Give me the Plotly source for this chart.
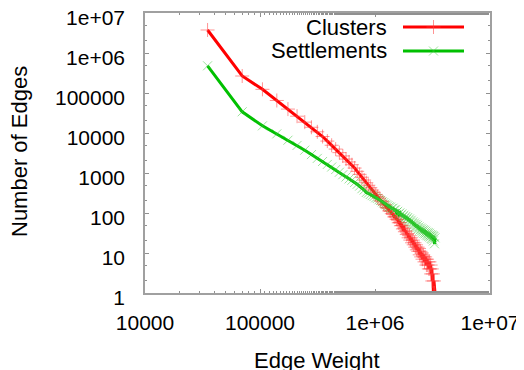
import plotly.graph_objects as go

# Edge weight bins (in thousands)
edge_weight_k = [35, 70, 105, 140, 175, 210, 245, 280, 315, 350,
                 385, 420, 455, 490, 525, 560, 595, 630, 665, 700,
                 735, 770, 805, 840, 875, 910, 945, 980, 1015, 1050,
                 1085, 1120, 1155, 1190, 1225, 1260, 1295, 1330, 1365, 1400,
                 1435, 1470, 1505, 1540, 1575, 1610, 1645, 1680, 1715, 1750,
                 1785, 1820, 1855, 1890, 1925, 1960, 1995, 2030, 2065, 2100,
                 2135, 2170, 2205, 2240, 2275, 2310, 2345, 2380, 2415, 2450,
                 2485, 2520, 2555, 2590, 2625, 2660, 2695, 2730, 2765, 2800,
                 2835, 2870, 2905, 2940, 2975, 3010, 3045, 3080, 3115, 3150,
                 3185, 3220, 3255, 3290, 3325]

clusters = [3760000, 266000, 123600, 65000, 39600, 26300, 18700, 13900, 10700, 8170,
            6280, 4940, 3960, 3230, 2670, 2230, 1890, 1610, 1330, 1100,
            925, 783, 667, 572, 494, 429, 375, 329, 290, 257,
            236, 203, 192, 166, 158, 137, 132, 113, 111, 96,
            94, 80, 81, 70, 68, 57, 58, 48, 49, 40,
            42, 34, 36, 29, 31, 24, 27, 21, 24, 18,
            21, 16, 18, 14, 16, 12, 14, 11, 13, 9,
            11, 8, 10, 7, 9, 8, 6, 8, 7, 5,
            7, 5, 6, 4, 6, 4, 5, 3, 4, 2,
            3, 1, 2, 1, 1]

settlements = [479000, 33900, 15100, 9500, 6600, 4890, 3720, 2880, 2320, 1940,
               1640, 1410, 1220, 1045, 907, 795, 711, 660, 580, 522,
               470, 405, 375, 326, 312, 290, 272, 258, 240, 232,
               214, 206, 190, 181, 168, 160, 152, 143, 140, 130,
               132, 119, 120, 103, 110, 94, 101, 87, 95, 80,
               88, 74, 82, 70, 77, 64, 71, 59, 66, 54,
               60, 50, 56, 46, 52, 43, 49, 40, 45, 37,
               42, 35, 40, 33, 38, 31, 37, 30, 35, 28,
               33, 27, 32, 26, 31, 25, 29, 23, 28, 22,
               27, 20, 26, 17, 24]

x_ticks = [1e4, 1e5, 1e6, 1e7]
x_tick_labels = ["10000", "100000", "1e+06", "1e+07"]
y_ticks = [1, 10, 100, 1000, 1e4, 1e5, 1e6, 1e7]
y_tick_labels = ["1", "10", "100", "1000", "10000", "100000", "1e+06", "1e+07"]

edge_weight = [w * 1000 for w in edge_weight_k]

FONT = "Liberation Sans, Arial, Helvetica, sans-serif"
RED = "#ff0000"
GREEN = "#00c000"

fig = go.Figure()
fig.add_trace(go.Scatter(
    x=edge_weight, y=clusters, name="Clusters", mode="lines+markers",
    legendgroup="clusters",
    line=dict(color=RED, width=3),
    marker=dict(symbol="cross-thin", size=10,
                line=dict(color="rgba(255,60,60,0.55)", width=1)),
))
fig.add_trace(go.Scatter(
    x=edge_weight[:len(settlements)], y=settlements, name="Settlements", mode="lines+markers",
    legendgroup="settlements",
    line=dict(color=GREEN, width=3),
    marker=dict(symbol="x-thin", size=9,
                line=dict(color="rgba(60,200,60,0.5)", width=1)),
))

# page body has an 8px margin; figure is sized/offset so the plot lands where the reference has it
OFF = 8
W, H = 516, 362
L, R, T, B = 137, 34, 5, 77
pw, ph = W - L - R, H - T - B

def fx(sx):
    return (sx - OFF - L) / pw

def fy(sy):
    return (H - B - (sy - OFF)) / ph

axis_common = dict(
    type="log", showgrid=False, zeroline=False,
    showline=True, linecolor="#a0a0a0", linewidth=1.5, mirror="allticks",
    ticks="inside", ticklen=4, tickcolor="#909090", tickwidth=1,
    ticklabeloverflow="allow",
    tickfont=dict(family=FONT, size=21, color="#000000"),
    minor=dict(ticks="inside", ticklen=2, tickcolor="#909090", showgrid=False),
)

fig.update_xaxes(
    **axis_common, range=[4, 7], tickvals=x_ticks, ticktext=x_tick_labels,
    ticklabelstandoff=10,
)
fig.update_yaxes(
    **axis_common, range=[0, 7], tickvals=y_ticks, ticktext=y_tick_labels,
    ticklabelstandoff=14, ticklabelshift=5,
)

title_font = dict(family=FONT, size=22, color="#000")
# axis titles (placed as in the reference, partly past the bottom edge)
fig.add_annotation(x=fx(316.5), y=fy(360), xref="paper", yref="paper", text="Edge Weight",
                   showarrow=False, xanchor="center", yanchor="middle", font=title_font)
fig.add_annotation(x=fx(19), y=fy(152), xref="paper", yref="paper", text="Number of Edges",
                   showarrow=False, textangle=-90, xanchor="center", yanchor="middle",
                   font=title_font)

# legend labels (gnuplot style: text right-aligned, sample to the right)
fig.add_annotation(x=fx(389), y=fy(27), xref="paper", yref="paper", text="Clusters",
                   showarrow=False, xanchor="right", yanchor="middle", font=title_font)
fig.add_annotation(x=fx(389), y=fy(51), xref="paper", yref="paper", text="Settlements",
                   showarrow=False, xanchor="right", yanchor="middle", font=title_font)

fig.update_layout(
    width=W, height=H,
    margin=dict(l=L, r=R, t=T, b=B, autoexpand=False),
    paper_bgcolor="white", plot_bgcolor="white",
    showlegend=True,
    legend=dict(x=fx(398), y=fy(12.5), xanchor="left", yanchor="top",
                bgcolor="rgba(0,0,0,0)", itemwidth=61,
                traceorder="grouped", tracegroupgap=5,
                font=dict(family=FONT, size=1, color="rgba(0,0,0,0)")),
)

fig.write_html("out.html")
